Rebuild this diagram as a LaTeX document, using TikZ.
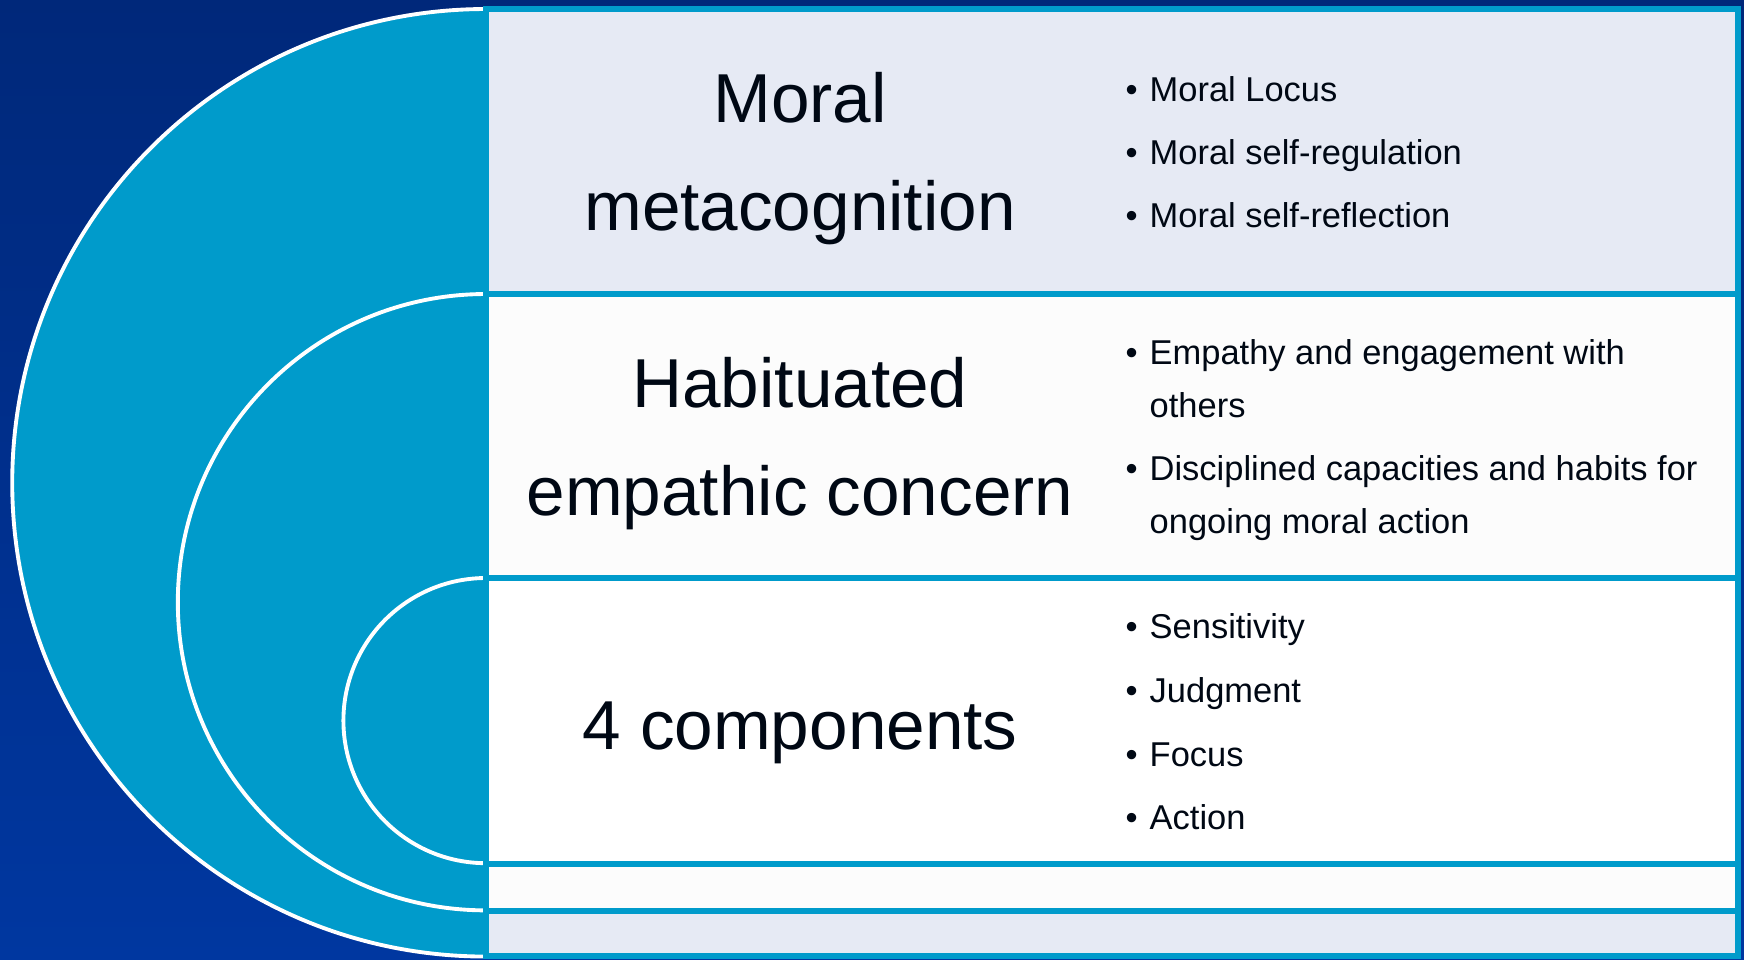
\documentclass[tikz,border=0pt]{standalone}
\usepackage{fontspec}
\setmainfont{Liberation Sans}
\definecolor{navytop}{HTML}{00287A}
\definecolor{navybot}{HTML}{0037A0}
\definecolor{cyanfill}{HTML}{009BCB}
\definecolor{lavender}{HTML}{E6EAF4}
\definecolor{offwhite}{HTML}{FCFCFC}
\definecolor{ink}{HTML}{000814}
\begin{document}
\begin{tikzpicture}[x=0.01cm, y=-0.01cm,
    band/.style = {draw=cyanfill, line width=1.7pt},
    title/.style = {font=\fontsize{19.7}{23}\selectfont, text=ink, anchor=base, inner sep=0pt},
    item/.style = {font=\fontsize{9.8}{11.5}\selectfont, text=ink, anchor=base west, inner sep=0pt}]
    \useasboundingbox (0,0) rectangle (1744,959);
    \shade[top color=navytop, bottom color=navybot] (0,0) rectangle (1744,959);
    % nested half discs
    \foreach \top/\rad in {9/4.735cm, 294/3.08cm, 578/1.425cm}{
        \fill[cyanfill] (486,\top) arc[start angle=90, end angle=270, radius=\rad] -- cycle;
        \draw[white, line width=1.1pt] (486,\top) arc[start angle=90, end angle=270, radius=\rad];
    }
    % bands
    \foreach \a/\b/\c in {9/294/lavender, 294/578/offwhite, 578/864/white, 864/911/offwhite, 911/956/lavender}
        \draw[band, fill=\c] (486,\a) rectangle (1738,\b);
    % titles
    \node (meta1) at (800,122) [title]{Moral};
    \node (meta2) at (800,230) [title]{metacognition};
    \node (habit1) at (800,407) [title]{Habituated};
    \node (habit2) at (800,515) [title]{empathic concern};
    \node (four) at (800,749) [title]{4 components};
    % bullet items
    \node (b1) at (1125,101) [item]{•};
    \node (meta-a) at (1149,101) [item]{Moral Locus};
    \node (b2) at (1125,164) [item]{•};
    \node (meta-b) at (1149,164) [item]{Moral self-regulation};
    \node (b3) at (1125,227) [item]{•};
    \node (meta-c) at (1149,227) [item]{Moral self-reflection};
    \node (b4) at (1125,364) [item]{•};
    \node (habit-a) at (1149,364) [item]{Empathy and engagement with};
    \node (habit-a2) at (1149,417) [item]{others};
    \node (b5) at (1125,480) [item]{•};
    \node (habit-b) at (1149,480) [item]{Disciplined capacities and habits for};
    \node (habit-b2) at (1149,533) [item]{ongoing moral action};
    \node (b6) at (1125,638) [item]{•};
    \node (four-a) at (1149,638) [item]{Sensitivity};
    \node (b7) at (1125,702) [item]{•};
    \node (four-b) at (1149,702) [item]{Judgment};
    \node (b8) at (1125,766) [item]{•};
    \node (four-c) at (1149,766) [item]{Focus};
    \node (b9) at (1125,829) [item]{•};
    \node (four-d) at (1149,829) [item]{Action};
\end{tikzpicture}
\end{document}
